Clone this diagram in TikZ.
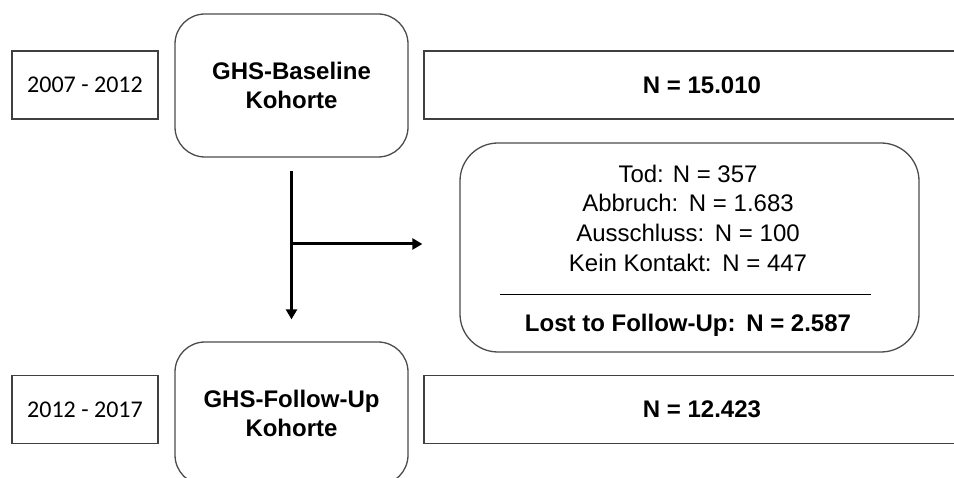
\documentclass[tikz,border=0pt]{standalone}
\usepackage{fontspec}
\setmainfont{Liberation Sans}
\newfontfamily\yearfont{Carlito}
\usetikzlibrary{arrows.meta}

\begin{document}
\begin{tikzpicture}[x=1pt,y=-1pt,
    font=\fontsize{24}{29.7}\selectfont,
    yearbox/.style={draw=black!75, line width=1.3pt, inner sep=0pt, minimum width=146pt, minimum height=68pt, font=\yearfont\fontsize{24}{29}\selectfont},
    cohort/.style={draw=black!70, line width=1.3pt, rounded corners=30pt, inner sep=0pt, minimum width=233pt, minimum height=143pt, align=center, font=\bfseries\fontsize{24}{29}\selectfont},
    countbox/.style={draw=black!75, line width=1.3pt, inner sep=0pt, minimum width=556pt, minimum height=68pt, font=\bfseries\fontsize{24}{29}\selectfont},
    flow/.style={line width=3pt, -{Triangle[length=10pt,width=11pt]}}]

    \useasboundingbox (0,0) rectangle (954,478);
    \clip (0,0) rectangle (954,478);

    % first row
    \node[yearbox] (year1) at (85,85) {2007 - 2012};
    \node[cohort] (base) at (291.5,85.5) {GHS-Baseline\\Kohorte};
    \node[countbox] (n1) at (702,85) {N = 15.010};

    % drop outs
    \node[draw=black!70, line width=1.3pt, rounded corners=38pt, inner sep=0pt, minimum width=459pt, minimum height=209pt] (lost) at (689.5,247.5) {};
    \node[align=center, inner sep=0pt] (causes) at (688,218) {Tod: N = 357\\Abbruch:\,\ N = 1.683\\Ausschluss:\,\ N = 100\\Kein Kontakt:\,\ N = 447};
    \coordinate (sepL) at (500,295);
    \coordinate (sepR) at (871,295);
    \draw[line width=1pt] (sepL) -- (sepR);
    \node[font=\bfseries\fontsize{24}{29}\selectfont, inner sep=0pt] (total) at (688,325) {Lost to Follow-Up:\,\ N = 2.587};

    % second row
    \node[yearbox] (year2) at (85,409.5) {2012 - 2017};
    \node[cohort] (follow) at (291.5,413.5) {GHS-Follow-Up\\Kohorte};
    \node[countbox] (n2) at (702,409.5) {N = 12.423};

    % arrows
    \coordinate (split) at (291.5,244);
    \draw[flow] ([yshift=-13pt]base.south) -- ([yshift=22pt]follow.north);
    \draw[flow] ([xshift=-1.5pt]split) -- ([xshift=-37pt]split -| lost.west);
\end{tikzpicture}
\end{document}
